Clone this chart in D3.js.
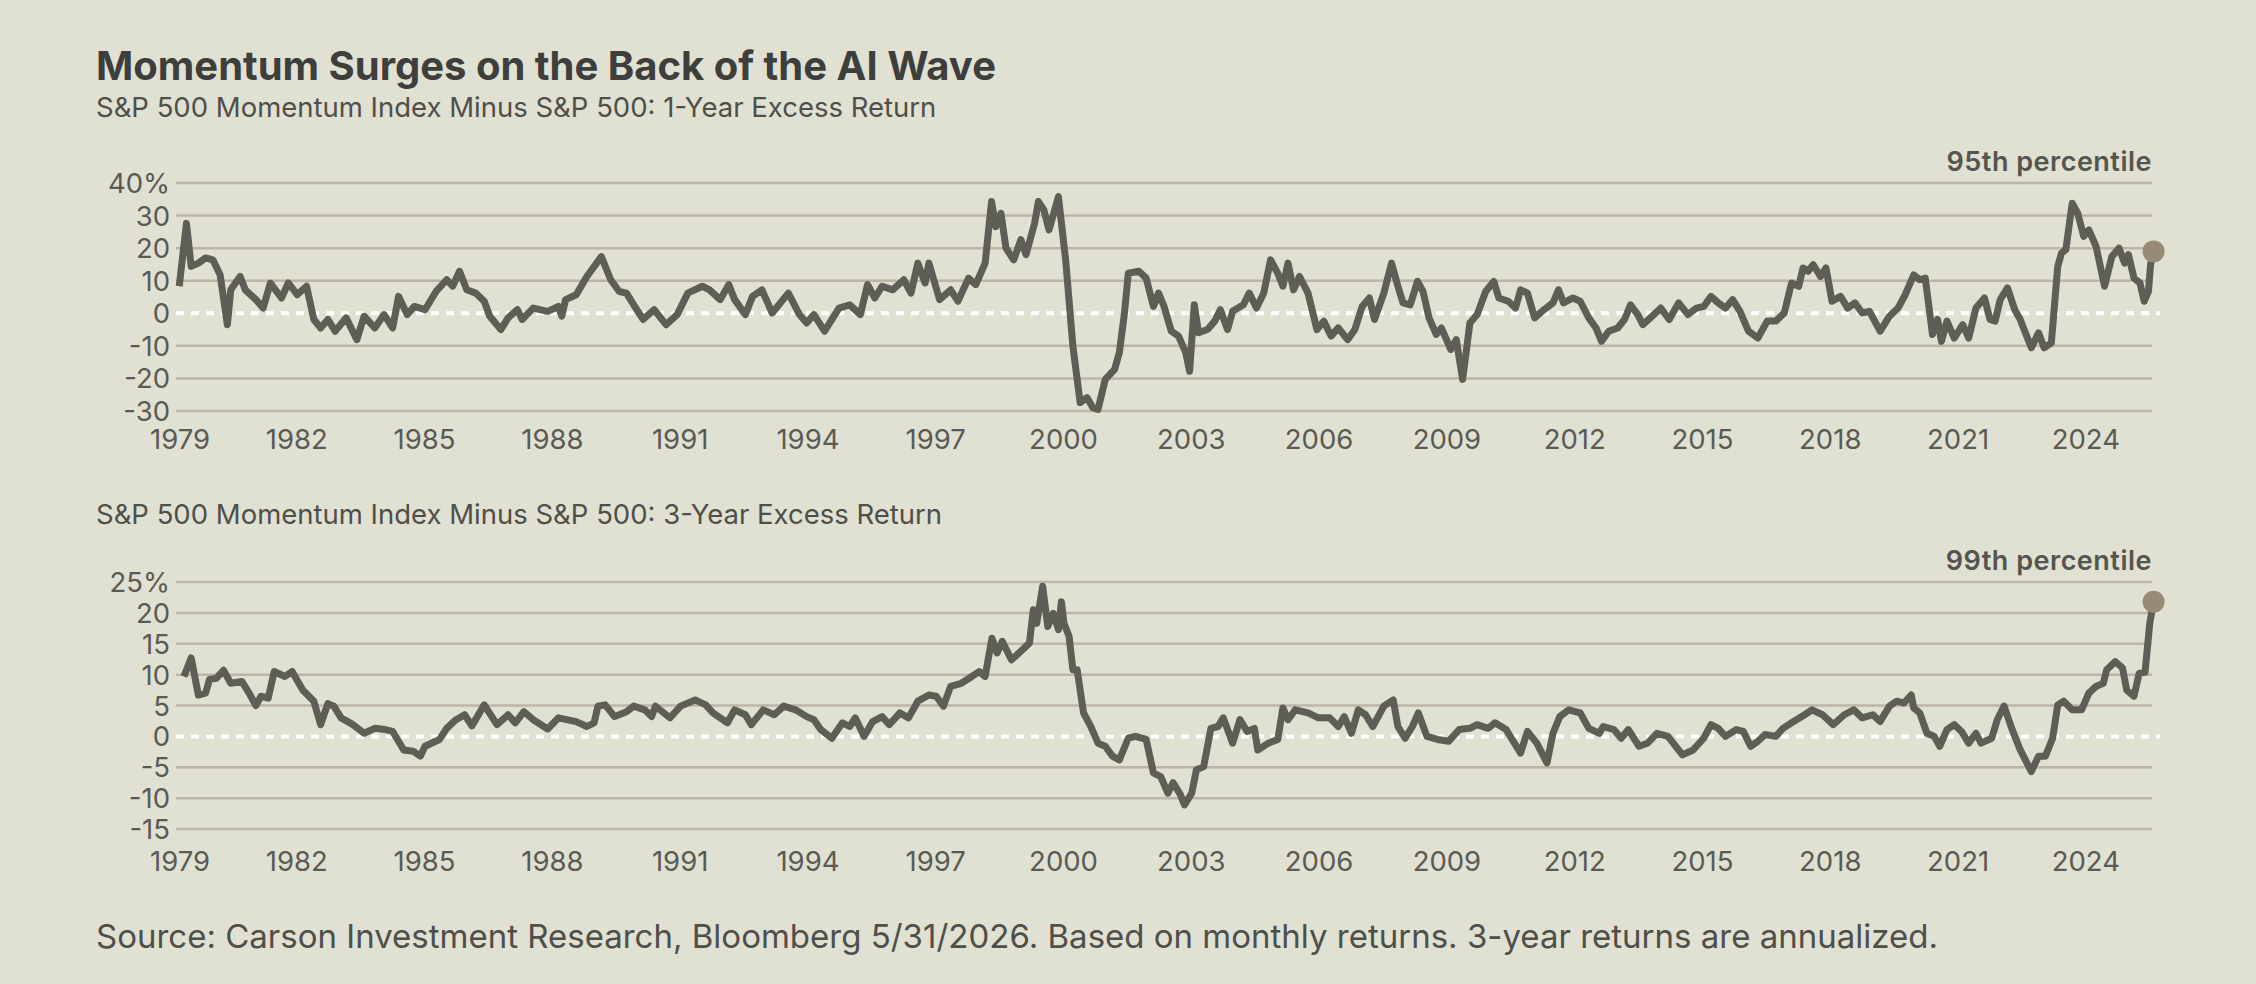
<!DOCTYPE html>
<html><head><meta charset="utf-8">
<script src="https://cdn.jsdelivr.net/npm/d3@7"></script>
<style>html,body{margin:0;padding:0;background:#e0e0d3;}svg{display:block;font-family:Inter,"Noto Sans",sans-serif;}</style>
</head><body>
<svg id="c" width="2256" height="984"></svg>
<script>
const t1=[1979.24,1979.41,1979.52,1979.69,1979.86,1980.03,1980.20,1980.37,1980.45,1980.67,1980.79,1981.04,1981.21,1981.38,1981.64,1981.80,1982.01,1982.23,1982.40,1982.56,1982.73,1982.90,1983.16,1983.41,1983.58,1983.83,1984.05,1984.25,1984.39,1984.59,1984.76,1985.01,1985.27,1985.52,1985.66,1985.82,1985.99,1986.20,1986.40,1986.53,1986.79,1986.96,1987.18,1987.29,1987.55,1987.89,1988.14,1988.22,1988.31,1988.56,1988.81,1989.15,1989.37,1989.57,1989.74,1989.91,1990.13,1990.39,1990.67,1990.93,1991.18,1991.52,1991.69,1991.94,1992.14,1992.28,1992.53,1992.70,1992.92,1993.16,1993.54,1993.80,1993.97,1994.14,1994.39,1994.73,1994.98,1995.23,1995.40,1995.57,1995.74,1995.99,1996.25,1996.42,1996.58,1996.75,1996.84,1997.09,1997.35,1997.52,1997.77,1997.94,1998.16,1998.31,1998.41,1998.53,1998.65,1998.83,1999.00,1999.12,1999.32,1999.41,1999.54,1999.66,1999.88,2000.05,2000.22,2000.39,2000.55,2000.69,2000.81,2000.98,2001.20,2001.31,2001.43,2001.52,2001.77,2001.94,2002.11,2002.23,2002.36,2002.53,2002.70,2002.87,2002.96,2003.07,2003.17,2003.38,2003.55,2003.68,2003.85,2003.97,2004.22,2004.36,2004.53,2004.70,2004.86,2005.03,2005.15,2005.27,2005.40,2005.54,2005.74,2005.95,2006.11,2006.28,2006.45,2006.67,2006.84,2007.01,2007.18,2007.30,2007.52,2007.70,2007.85,2007.97,2008.14,2008.31,2008.44,2008.58,2008.75,2008.87,2009.09,2009.22,2009.37,2009.54,2009.71,2009.91,2010.10,2010.22,2010.44,2010.61,2010.73,2010.89,2011.06,2011.28,2011.49,2011.62,2011.74,2011.96,2012.13,2012.33,2012.50,2012.63,2012.80,2013.01,2013.17,2013.31,2013.48,2013.60,2013.82,2014.02,2014.22,2014.44,2014.66,2014.86,2015.03,2015.20,2015.37,2015.54,2015.71,2015.88,2016.08,2016.30,2016.52,2016.72,2016.92,2017.09,2017.26,2017.36,2017.48,2017.60,2017.77,2017.90,2018.04,2018.24,2018.41,2018.58,2018.75,2018.92,2019.17,2019.39,2019.59,2019.76,2019.96,2020.10,2020.23,2020.40,2020.52,2020.61,2020.74,2020.91,2021.11,2021.25,2021.42,2021.62,2021.75,2021.87,2021.99,2022.16,2022.33,2022.46,2022.55,2022.72,2022.89,2023.02,2023.19,2023.34,2023.43,2023.53,2023.68,2023.81,2023.95,2024.07,2024.24,2024.44,2024.61,2024.78,2024.91,2025.00,2025.13,2025.27,2025.37,2025.47,2025.52,2025.59];
const v1=[8.3,27.6,14.4,15.4,17,16.4,11.8,-3.5,7.2,11.3,7.2,4.2,1.6,9.3,4.7,9.3,5.7,8.3,-1.9,-4.5,-1.9,-5.5,-1.4,-8.1,-0.9,-4.5,-0.4,-4.5,5.2,-0.4,2.1,1.1,6.7,10.3,8.3,12.9,7.2,6.2,3.7,-0.9,-5,-1.4,1.1,-1.9,1.6,0.6,2.1,-0.9,4.2,5.7,11.3,17.4,10.3,6.7,6.2,2.6,-1.9,1.1,-3.5,-0.4,6.2,8.3,7.2,4.2,8.8,4.2,-0.4,5.2,7.2,0.1,6.2,-0.4,-3,-0.4,-5.5,1.6,2.6,-0.4,8.8,4.7,8.3,7.2,10.3,6.2,15.4,9.3,15.4,4.2,7.2,3.7,10.8,8.8,15.4,34.3,26.6,30.7,20,16.4,22.6,18,27.6,34.3,31.7,25.6,35.8,16.4,-10.1,-27.4,-25.9,-29,-29.5,-20.3,-17.2,-12.1,0,12.3,12.9,10.8,2.1,6.2,2.1,-5.5,-7,-12.1,-17.8,2.6,-6,-5,-2.4,1.1,-5,0.6,2.6,6.2,1.6,6.2,16.4,12.3,8.3,15.4,7.2,11.3,6.2,-5,-2.4,-7,-4.5,-8.1,-5,2.1,4.7,-1.9,6.2,15.4,8.3,3.2,2.6,9.8,6.7,-1.4,-6.5,-4.5,-11.1,-8.1,-20.3,-3,-0.4,6.7,9.8,4.7,3.7,1.6,7.2,6.2,-1.4,1.1,3.2,7.2,3.2,4.7,3.7,-1.4,-4.5,-8.6,-5.5,-4.5,-1.9,2.6,-0.4,-3.5,-0.9,1.6,-1.9,3.2,-0.4,1.6,2.1,5.2,3.2,1.6,4.2,0.6,-5.5,-7.6,-2.4,-2.4,0.1,9.3,8.3,13.9,12.9,14.9,11.3,13.9,3.7,5.2,1.6,3.2,0.1,0.6,-5.5,-0.9,1.6,5.7,11.8,10.3,10.8,-6.5,-1.9,-8.6,-2.4,-7.6,-3.5,-7.6,1.6,4.7,-1.9,-2.4,4.2,7.8,1.1,-1.9,-5,-10.6,-6,-10.6,-9.1,14.4,18.5,19.5,33.8,30.7,23.6,25.6,20.5,8.3,17.4,20,15.4,18,10.8,9.3,3.7,6.7,15,19];
const t3=[1979.35,1979.52,1979.69,1979.86,1979.95,1980.11,1980.28,1980.45,1980.71,1980.88,1981.04,1981.16,1981.33,1981.47,1981.72,1981.89,1982.14,1982.40,1982.56,1982.73,1982.87,1983.04,1983.32,1983.58,1983.83,1984.08,1984.25,1984.51,1984.73,1984.90,1985.01,1985.35,1985.52,1985.72,1985.94,1986.11,1986.40,1986.70,1986.96,1987.13,1987.33,1987.55,1987.89,1988.14,1988.56,1988.81,1988.98,1989.07,1989.24,1989.46,1989.74,1989.91,1990.17,1990.33,1990.42,1990.76,1991.01,1991.35,1991.60,1991.77,1992.11,1992.28,1992.53,1992.67,1992.95,1993.21,1993.43,1993.71,1993.97,1994.14,1994.30,1994.56,1994.81,1994.98,1995.11,1995.32,1995.52,1995.74,1995.91,1996.16,1996.36,1996.58,1996.84,1997.01,1997.18,1997.35,1997.60,1997.85,1998.02,1998.16,1998.32,1998.44,1998.56,1998.78,1999.03,1999.20,1999.29,1999.37,1999.51,1999.63,1999.76,1999.88,1999.95,2000.01,2000.13,2000.22,2000.32,2000.47,2000.64,2000.81,2000.98,2001.15,2001.31,2001.52,2001.69,2001.94,2002.11,2002.28,2002.45,2002.57,2002.74,2002.84,2003.01,2003.12,2003.29,2003.46,2003.63,2003.75,2003.97,2004.14,2004.31,2004.48,2004.56,2004.81,2005.03,2005.15,2005.27,2005.44,2005.74,2005.98,2006.25,2006.45,2006.59,2006.76,2006.92,2007.09,2007.26,2007.52,2007.74,2007.85,2008.02,2008.19,2008.33,2008.53,2008.78,2009.04,2009.29,2009.54,2009.71,2009.97,2010.13,2010.39,2010.56,2010.73,2010.89,2011.11,2011.35,2011.49,2011.65,2011.86,2012.13,2012.33,2012.58,2012.67,2012.92,2013.09,2013.26,2013.51,2013.71,2013.93,2014.19,2014.53,2014.78,2015.03,2015.20,2015.37,2015.54,2015.79,2015.96,2016.13,2016.30,2016.47,2016.72,2016.89,2017.14,2017.40,2017.57,2017.82,2018.07,2018.33,2018.55,2018.75,2019.00,2019.17,2019.39,2019.56,2019.73,2019.90,2019.96,2020.10,2020.27,2020.44,2020.57,2020.74,2020.91,2021.08,2021.25,2021.42,2021.54,2021.79,2021.92,2022.08,2022.26,2022.46,2022.72,2022.89,2023.05,2023.22,2023.34,2023.48,2023.68,2023.90,2024.07,2024.24,2024.41,2024.49,2024.69,2024.86,2024.96,2025.13,2025.25,2025.39,2025.50,2025.59];
const v3=[9.7,12.7,6.7,7,9.2,9.4,10.7,8.6,8.9,7,5,6.5,6.2,10.5,9.7,10.5,7.5,5.7,1.9,5.3,4.9,3,1.9,0.5,1.3,1.1,0.8,-2.2,-2.4,-3.2,-1.6,-0.5,1.3,2.6,3.5,1.7,5.1,1.9,3.5,2.2,4,2.7,1.2,3,2.4,1.6,2.2,4.9,5.1,3.2,4,4.9,4.3,3.2,4.9,3,4.9,5.9,5.1,3.8,2.2,4.3,3.5,1.9,4.3,3.5,4.9,4.3,3.2,2.7,1.1,-0.3,2.2,1.6,3,0,2.4,3.2,1.9,3.8,3,5.7,6.7,6.5,4.9,8.1,8.6,9.7,10.5,9.7,15.9,13.5,15.4,12.4,14,15.1,20.5,18.3,24.3,17.8,19.9,17.3,21.8,18.3,16.2,10.8,10.8,3.8,1.6,-1.1,-1.6,-3.2,-3.8,-0.3,0,-0.5,-5.9,-6.5,-9.2,-7.5,-9.4,-11.1,-9.2,-5.4,-4.9,1.3,1.6,3,-1.1,2.7,0.8,1.3,-2.2,-1.1,-0.5,4.6,2.7,4.3,3.8,3,3,1.6,3.2,0.5,4.3,3.5,1.6,4.9,5.9,1.6,-0.3,1.6,3.8,0,-0.5,-0.8,1.1,1.3,1.9,1.3,2.2,1.1,-0.8,-2.7,0.8,-1.1,-4.3,0.5,3.2,4.3,3.8,1.3,0.5,1.6,1.1,-0.3,1.1,-1.6,-1.1,0.5,0,-3,-2.2,-0.3,1.9,1.3,0,1.1,0.8,-1.6,-0.8,0.3,0,1.3,2.4,3.5,4.3,3.5,1.9,3.5,4.3,3,3.5,2.4,4.9,5.7,5.4,6.7,4.6,3.8,0.5,0,-1.6,1.1,1.9,0.8,-1.1,0.5,-1.1,-0.3,2.7,4.9,1.3,-2.2,-5.7,-3.2,-3.2,-0.3,5.1,5.7,4.3,4.3,7,8.1,8.6,10.8,12.1,11.1,7.5,6.5,10.2,10.4,18.3,21.8];
const xTicks=d3.range(1979,2025,3);
const ticks1=[40,30,20,10,0,-10,-20,-30];
const ticks3=[25,20,15,10,5,0,-5,-10,-15];

const svg=d3.select("#c");
const ink="#4f4f4a", lineC="#5e5e56", grid="#bcb6a9";
svg.append("text").attr("x",96).attr("y",80).attr("font-size",40).attr("font-weight",700).attr("fill","#3e3e3c").text("Momentum Surges on the Back of the AI Wave");
svg.append("text").attr("x",96).attr("y",117).attr("font-size",27.5).attr("fill",ink).text("S&P 500 Momentum Index Minus S&P 500: 1-Year Excess Return");
svg.append("text").attr("x",96).attr("y",524).attr("font-size",27.5).attr("fill",ink).text("S&P 500 Momentum Index Minus S&P 500: 3-Year Excess Return");
svg.append("text").attr("x",96).attr("y",948).attr("font-size",33).attr("fill",ink).text("Source: Carson Investment Research, Bloomberg 5/31/2026. Based on monthly returns. 3-year returns are annualized.");

const x=d3.scaleLinear().domain([1979,2025.6]).range([169,2154]);
function panel(t,v,ticks,yTop,yBot,xLabY,note){
  const y=d3.scaleLinear().domain([ticks[0],ticks[ticks.length-1]]).range([yTop,yBot]);
  const g=svg.append("g");
  g.selectAll(".g").data(ticks.filter(d=>d!==0)).join("line").attr("x1",176).attr("x2",2152).attr("y1",d=>y(d)).attr("y2",d=>y(d)).attr("stroke",grid).attr("stroke-width",2.5);
  g.selectAll(".yl").data(ticks).join("text").attr("x",170).attr("y",d=>y(d)+10).attr("text-anchor","end").attr("font-size",27.5).attr("fill","#5a5a54").text((d,i)=>i===0?d+"%":d);
  g.selectAll(".xl").data(xTicks).join("text").attr("x",d=>Math.max(x(d),180)).attr("y",xLabY).attr("text-anchor","middle").attr("font-size",27.5).attr("fill","#5a5a54").text(d=>d);
  g.append("line").attr("x1",176).attr("x2",2160).attr("y1",y(0)).attr("y2",y(0)).attr("stroke","#ffffff").attr("stroke-width",4).attr("stroke-dasharray","8,7");
  const pts=t.map((d,i)=>[d,v[i]]);
  g.append("path").datum(pts).attr("fill","none").attr("stroke",lineC).attr("stroke-width",7).attr("stroke-linejoin","round").attr("d",d3.line().x(d=>x(d[0])).y(d=>y(d[1])));
  const last=pts[pts.length-1];
  g.append("circle").attr("cx",x(last[0])).attr("cy",y(last[1])).attr("r",11).attr("fill","#978b78");
  g.append("text").attr("x",2152).attr("y",yTop-12).attr("text-anchor","end").attr("font-size",27).attr("font-weight",600).attr("letter-spacing",0.5).attr("fill","#55554f").text(note);
}
panel(t1,v1,ticks1,183,411,449,"95th percentile");
panel(t3,v3,ticks3,582,829,871,"99th percentile");
</script>
</body></html>
